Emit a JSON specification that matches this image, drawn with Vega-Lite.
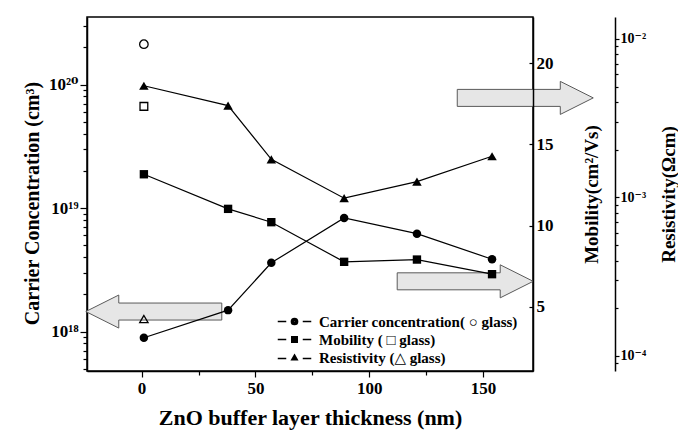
{
  "$schema": "https://vega.github.io/schema/vega-lite/v6.json",
  "width": 446,
  "height": 354,
  "autosize": {"type": "none"},
  "padding": {"left": 87, "top": 17, "right": 145, "bottom": 67},
  "background": "white",
  "config": {
    "font": "Liberation Serif, Times New Roman, DejaVu Serif, serif",
    "view": {"stroke": "black", "strokeWidth": 1.5},
    "axis": {
      "domainColor": "black", "domainWidth": 1.5, "tickColor": "black", "tickWidth": 1.2,
      "labelColor": "black", "titleColor": "black",
      "labelFont": "Liberation Serif, Times New Roman, DejaVu Serif, serif",
      "titleFont": "Liberation Serif, Times New Roman, DejaVu Serif, serif",
      "labelFontWeight": "bold", "titleFontWeight": "bold", "grid": false, "labelOverlap": false, "labelFlush": false
    },
    "legend": {
      "orient": "none", "legendX": 200, "legendY": 297,
      "labelFont": "Liberation Serif, Times New Roman, DejaVu Serif, serif",
      "labelFontWeight": "bold", "labelFontSize": 15, "labelColor": "black", "labelLimit": 400,
      "symbolSize": 100, "symbolStrokeWidth": 1.5, "symbolOpacity": 1, "symbolStrokeColor": "black",
      "labelOffset": 17, "rowPadding": 2
    }
  },
  "datasets": {
    "main": [
      {"t": 1, "cc": 8.9e17, "mob": 13.16, "res": 0.00507},
      {"t": 38, "cc": 1.49e18, "mob": 11.03, "res": 0.0038},
      {"t": 57, "cc": 3.6e18, "mob": 10.21, "res": 0.00174},
      {"t": 89, "cc": 8.3e18, "mob": 7.77, "res": 0.00099},
      {"t": 121, "cc": 6.2e18, "mob": 7.91, "res": 0.00126},
      {"t": 154, "cc": 3.85e18, "mob": 7.01, "res": 0.00182}
    ],
    "glass": [
      {"t": 1, "cc": 2.12e20, "mob": 17.34, "res": 0.000171}
    ],
    "arrows": [
      {"t": 168.6, "mob": 17.86, "dir": "right"},
      {"t": 142.2, "mob": 6.57, "dir": "right"},
      {"t": 5.35, "mob": 4.71, "dir": "left"}
    ],
    "series": [
      {"name": "Carrier concentration( ○ glass)"},
      {"name": "Mobility ( □ glass)"},
      {"name": "Resistivity (△ glass)"}
    ]
  },
  "layer": [
    {
      "encoding": {
        "x": {
          "field": "t", "type": "quantitative",
          "scale": {"domain": [-24, 172], "nice": false, "zero": false},
          "axis": {
            "title": "ZnO buffer layer thickness (nm)", "titleFontSize": 22, "titlePadding": 11,
            "values": [0, 25, 50, 75, 100, 125, 150],
            "labelExpr": "datum.value % 50 == 0 ? datum.label : ''",
            "labelFontSize": 17, "labelPadding": 3,
            "tickSize": {"condition": {"test": "datum.value % 50 == 0", "value": 6}, "value": 4}
          }
        },
        "y": {
          "field": "mob", "type": "quantitative",
          "scale": {"domain": [1.05, 22.84], "nice": false, "zero": false},
          "axis": {
            "orient": "right", "title": "Mobility(cm²/Vs)", "titleFontSize": 19, "titleAngle": 270,
            "titlePadding": 48, "values": [5, 10, 15, 20], "labelFontSize": 17,
            "tickSize": -4, "labelPadding": 7, "zindex": 1
          }
        }
      },
      "layer": [
        {
          "data": {"name": "arrows"},
          "transform": [{"filter": "datum.dir == 'right'"}],
          "mark": {"type": "point", "shape": "M-1,-0.125L0.515,-0.125L0.515,-0.243L1,0L0.515,0.243L0.515,0.125L-1,0.125Z",
                   "size": 18496, "filled": true, "fill": "#e6e6e6", "stroke": "#5a5a5a", "strokeWidth": 1, "opacity": 1, "clip": false}
        },
        {
          "data": {"name": "arrows"},
          "transform": [{"filter": "datum.dir == 'left'"}],
          "mark": {"type": "point", "shape": "M1,-0.125L-0.515,-0.125L-0.515,-0.243L-1,0L-0.515,0.243L-0.515,0.125L1,0.125Z",
                   "size": 18496, "filled": true, "fill": "#e6e6e6", "stroke": "#5a5a5a", "strokeWidth": 1, "opacity": 1, "clip": false}
        },
        {
          "data": {"name": "main"},
          "mark": {"type": "line", "color": "black", "strokeWidth": 1.2,
                   "point": {"shape": "square", "size": 70, "filled": true, "color": "black", "opacity": 1}}
        },
        {
          "data": {"name": "glass"},
          "mark": {"type": "point", "shape": "square", "size": 60, "filled": false, "color": "black", "strokeWidth": 1.3, "opacity": 1}
        }
      ]
    },
    {
      "encoding": {
        "x": {"field": "t", "type": "quantitative"},
        "y": {
          "field": "cc", "type": "quantitative",
          "scale": {"type": "log", "domain": [4.79e17, 3.52e20], "nice": false},
          "axis": {
            "orient": "left", "title": "Carrier Concentration (cm³)", "titleFontSize": 20, "titlePadding": 6,
            "titleY": 186,
            "values": [5e17, 6e17, 7e17, 8e17, 9e17, 1e18, 2e18, 3e18, 4e18, 5e18, 6e18, 7e18, 8e18, 9e18, 1e19, 2e19, 3e19, 4e19, 5e19, 6e19, 7e19, 8e19, 9e19, 1e20, 2e20, 3e20],
            "labelExpr": "abs(datum.value-1e18)<1e15 ? '10¹⁸' : abs(datum.value-1e19)<1e16 ? '10¹⁹' : abs(datum.value-1e20)<1e17 ? '10²⁰' : ''",
            "labelFontSize": 17, "labelPadding": 2,
            "tickSize": {"condition": {"test": "abs(log(datum.value)/LN10 - round(log(datum.value)/LN10)) < 0.001", "value": 7}, "value": 4}
          }
        }
      },
      "layer": [
        {
          "data": {"name": "main"},
          "mark": {"type": "line", "color": "black", "strokeWidth": 1.2,
                   "point": {"shape": "circle", "size": 72, "filled": true, "color": "black", "opacity": 1}}
        },
        {
          "data": {"name": "glass"},
          "mark": {"type": "point", "shape": "circle", "size": 72, "filled": false, "color": "black", "strokeWidth": 1.3, "opacity": 1}
        }
      ]
    },
    {
      "encoding": {
        "x": {"field": "t", "type": "quantitative"},
        "y": {
          "field": "res", "type": "quantitative",
          "scale": {"type": "log", "domain": [0.0000804, 0.013762], "nice": false},
          "axis": {
            "orient": "right", "offset": 82, "title": "Resistivity(Ωcm)", "titleFontSize": 19, "titleAngle": 270,
            "titlePadding": 33,
            "values": [0.00009, 0.0001, 0.0002, 0.0003, 0.0004, 0.0005, 0.0006, 0.0007, 0.0008, 0.0009, 0.001, 0.002, 0.003, 0.004, 0.005, 0.006, 0.007, 0.008, 0.009, 0.01],
            "labelExpr": "abs(datum.value-1e-4)<1e-7 ? '10⁻⁴' : abs(datum.value-1e-3)<1e-6 ? '10⁻³' : abs(datum.value-1e-2)<1e-5 ? '10⁻²' : ''",
            "labelFontSize": 14, "labelPadding": 1,
            "tickSize": {"condition": {"test": "abs(log(datum.value)/LN10 - round(log(datum.value)/LN10)) < 0.001", "value": 4}, "value": 3}
          }
        }
      },
      "layer": [
        {
          "data": {"name": "main"},
          "mark": {"type": "line", "color": "black", "strokeWidth": 1.2,
                   "point": {"shape": "triangle-up", "size": 90, "filled": true, "color": "black", "opacity": 1}}
        },
        {
          "data": {"name": "glass"},
          "mark": {"type": "point", "shape": "triangle-up", "size": 70, "filled": false, "color": "black", "strokeWidth": 1.3, "opacity": 1}
        }
      ]
    },
    {
      "data": {"name": "series"},
      "mark": {"type": "point", "filled": false, "color": "black", "strokeWidth": 1.5, "opacity": 0},
      "encoding": {
        "shape": {
          "field": "name", "type": "nominal",
          "scale": {
            "domain": ["Carrier concentration( ○ glass)", "Mobility ( □ glass)", "Resistivity (△ glass)"],
            "range": [
              "M-3.35,0H-1.65M1.65,0H3.35M0.62,0A0.62,0.62,0,1,1,-0.62,0A0.62,0.62,0,1,1,0.62,0ZM0.35,0A0.35,0.35,0,1,1,-0.35,0A0.35,0.35,0,1,1,0.35,0ZM0.08,0A0.08,0.08,0,1,1,-0.08,0A0.08,0.08,0,1,1,0.08,0Z",
              "M-3.35,0H-1.65M1.65,0H3.35M-0.55,-0.55H0.55V0.55H-0.55ZM-0.25,-0.25H0.25V0.25H-0.25ZM-0.06,-0.06H0.06V0.06H-0.06Z",
              "M-3.35,0.2H-1.65M1.65,0.2H3.35M0,-0.5L0.55,0.45H-0.55ZM0,-0.12L0.22,0.26H-0.22Z"
            ]
          },
          "legend": {"title": null}
        }
      }
    }
  ],
  "resolve": {"scale": {"y": "independent"}, "axis": {"y": "independent"}}
}
